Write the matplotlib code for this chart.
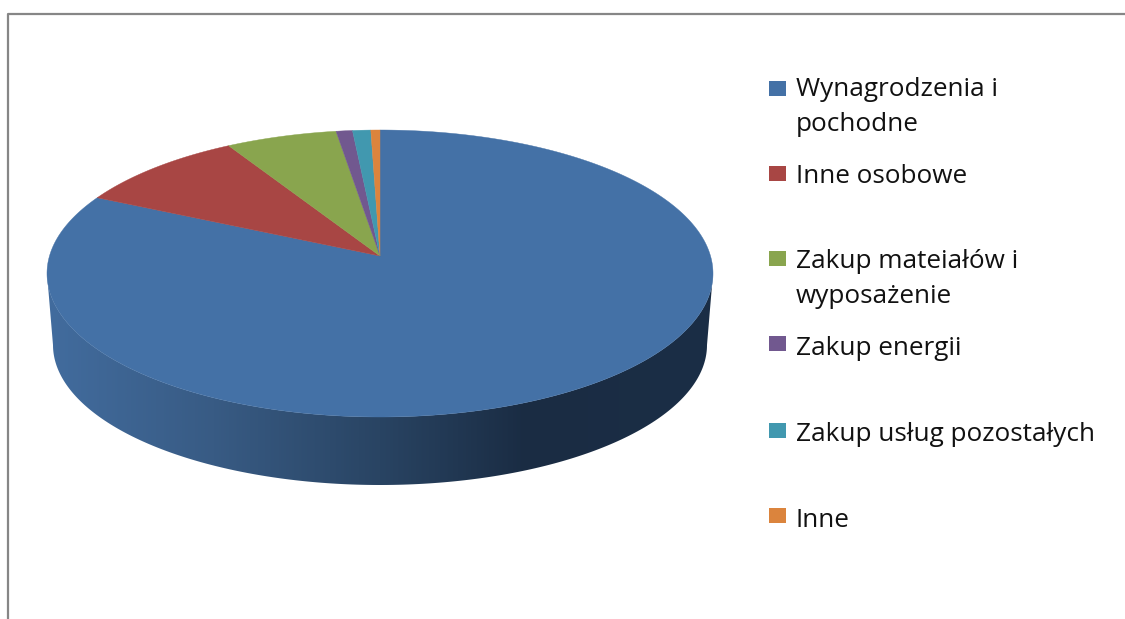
"""3D pie chart of cost structure, drawn on one pixel-sized axes."""

import matplotlib

matplotlib.use("Agg")
import matplotlib.pyplot as plt
import numpy as np
from matplotlib.colors import LinearSegmentedColormap
from matplotlib.patches import Polygon, Rectangle

plt.rcParams["font.family"] = ["Open Sans", "DejaVu Sans"]

# data
labels = [
    ["Wynagrodzenia i", "pochodne"],
    ["Inne osobowe"],
    ["Zakup mateiałów i", "wyposażenie"],
    ["Zakup energii"],
    ["Zakup usług pozostałych"],
    ["Inne"],
]
values = [82.1, 9.4, 6.1, 0.9, 1.0, 0.5]

# style
colors = ["#4471a6", "#a84644", "#89a54e", "#71588f", "#4198af", "#db843d"]
edge_color = "#868686"
side_stops = [
    (0.0, "#426c9e"),
    (0.25, "#385b84"),
    (0.5, "#294463"),
    (0.72, "#1a2c43"),
    (1.0, "#1b2e46"),
]

# layout, in pixels
WIDTH, HEIGHT = 1125, 619
CX, CY, RX, RY = 380, 273.5, 333, 143.5
APEX_Y = 256
LOW_CX, LOW_CY, LOW_RX, LOW_RY = 380, 345, 327, 140
swatch_tops = [81, 166, 251, 336, 423, 508]
swatch_size = 17
first_baselines = [96, 183, 268, 355, 441, 527]
text_x = 796
line_step = 35


def wedge_outline(start, end):
    """Slice from the off-centre apex out to the rim; angles clockwise from top."""
    h = (CY - APEX_Y) / RY
    theta = np.radians(np.linspace(start, end, max(int((end - start) * 2), 2)))
    dx, dy = np.sin(theta), np.cos(theta)
    t = -h * dy + np.sqrt((h * dy) ** 2 + 1 - h**2)
    xs = CX + RX * t * dx
    ys = CY - RY * (h + t * dy)
    return np.vstack([[CX, APEX_Y], np.column_stack([xs, ys])])


def main():
    fig = plt.figure(figsize=(WIDTH / 100, HEIGHT / 100), dpi=100)
    ax = fig.add_axes([0, 0, 1, 1])
    ax.set_xlim(0, WIDTH)
    ax.set_ylim(HEIGHT, 0)
    ax.axis("off")

    # side wall, dark gradient clipped to the area between the two ellipses
    phi = np.linspace(0, np.pi, 200)
    upper = np.column_stack([CX + RX * np.cos(phi), CY + RY * np.sin(phi)])
    lower = np.column_stack(
        [LOW_CX + LOW_RX * np.cos(phi), LOW_CY + LOW_RY * np.sin(phi)]
    )
    side = Polygon(np.vstack([upper, lower[::-1]]), closed=True, fc="none", ec="none")
    ax.add_patch(side)
    cmap = LinearSegmentedColormap.from_list("side", side_stops)
    img = ax.imshow(
        np.linspace(0, 1, 512).reshape(1, -1),
        cmap=cmap,
        extent=[CX - RX, CX + RX, CY + RY + 80, CY - 10],
        aspect="auto",
        zorder=1,
    )
    img.set_clip_path(side)
    ax.set_xlim(0, WIDTH)
    ax.set_ylim(HEIGHT, 0)

    # top face, clockwise from 12 o'clock
    shares = np.array(values) / sum(values) * 360
    angles = np.concatenate([[0], np.cumsum(shares)])
    for i, color in enumerate(colors):
        ax.add_patch(
            Polygon(
                wedge_outline(angles[i], angles[i + 1]),
                closed=True,
                fc=color,
                ec=color,
                lw=0.3,
                zorder=2,
            )
        )

    # legend
    for i, lines in enumerate(labels):
        ax.add_patch(
            Rectangle(
                (769, swatch_tops[i]),
                swatch_size,
                swatch_size - 2,
                fc=colors[i],
                ec="none",
                zorder=3,
            )
        )
        for j, line in enumerate(lines):
            ax.text(
                text_x,
                first_baselines[i] + j * line_step,
                line,
                fontsize=18.8,
                color="#111111",
                ha="left",
                va="baseline",
            )

    # chart frame, only top and left edges are inside the crop
    ax.plot([8, 8, WIDTH], [HEIGHT, 14, 14], color=edge_color, lw=1.6, zorder=4)

    plt.savefig("out.png", dpi=100)


if __name__ == "__main__":
    main()
